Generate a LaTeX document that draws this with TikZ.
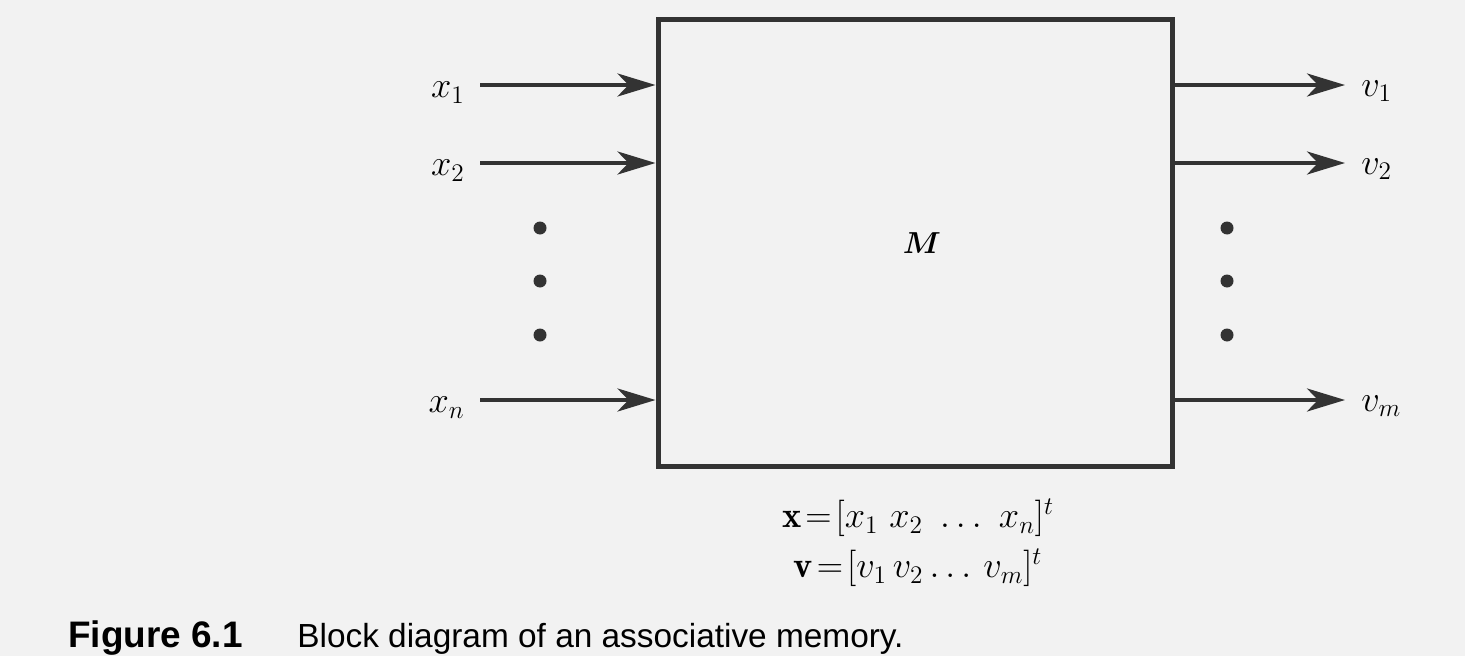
\documentclass[tikz,border=0pt]{standalone}
\usepackage{fontspec}
\usepackage{bm}
\setsansfont{Liberation Sans}
\usepackage{tikz}
\usetikzlibrary{arrows.meta,positioning,calc}
\definecolor{ink}{gray}{0.2}
\definecolor{paper}{gray}{0.95}

\begin{document}
\begin{tikzpicture}[
    x=0.2mm, y=-0.2mm,
    mem/.style={draw=ink, line width=1mm, minimum width=102.8mm, minimum height=89.2mm},
    edge/.style={-{Stealth[length=7.6mm, width=4.6mm, inset=2.2mm]}, draw=ink, line width=0.8mm},
    lbl/.style={font=\huge, inner sep=0pt},
    dot/.style={circle, fill=ink, inner sep=0pt, minimum size=2.6mm}
]
\fill[paper] (0,0) rectangle (1465,656);
\useasboundingbox (0,0) rectangle (1465,656);

\node[mem] (mem) at (915,243) {};
\node[font=\LARGE] (mlabel) at ([xshift=1.4mm]mem.center) {$\bm{M}$};

% inputs
\coordinate (in1) at (480,85);
\coordinate (in2) at (480,163);
\coordinate (inn) at (480,400);
\node[lbl, left=3mm of in1, yshift=-1.5mm] (x1) {$x_1$};
\node[lbl, left=3mm of in2, yshift=-1.5mm] (x2) {$x_2$};
\node[lbl, left=3mm of inn, yshift=-1.5mm] (xn) {$x_n$};
\draw[edge] (in1) -- (in1 -| mem.west);
\draw[edge] (in2) -- (in2 -| mem.west);
\draw[edge] (inn) -- (inn -| mem.west);

% outputs
\coordinate (out1) at (1345,85);
\coordinate (out2) at (1345,163);
\coordinate (outm) at (1345,400);
\node[lbl, right=3.2mm of out1, yshift=-1.2mm] (v1) {$v_1$};
\node[lbl, right=3.2mm of out2, yshift=-1.2mm] (v2) {$v_2$};
\node[lbl, right=3.2mm of outm, yshift=-1.2mm] (vm) {$v_m$};
\draw[edge] (out1 -| mem.east) -- (out1);
\draw[edge] (out2 -| mem.east) -- (out2);
\draw[edge] (outm -| mem.east) -- (outm);

% dots
\foreach \y [count=\i] in {228,281,335} {
  \node[dot] (ld\i) at (540,\y) {};
  \node[dot] (rd\i) at (1227,\y) {};
}

\node[lbl] (eqx) at (918,518) {$\mathbf{x}\!=\![x_1\ x_2\ \ldots\ x_n]^t$};
\node[lbl] (eqv) at (918,568) {$\mathbf{v}\!=\![v_1\, v_2 \ldots\, v_m]^t$};

\node[anchor=base west, font=\sffamily\bfseries\fontsize{21}{25}\selectfont, inner sep=0pt] (capnum) at (68,647) {Figure 6.1};
\node[anchor=base west, font=\sffamily\fontsize{19}{23}\selectfont, inner sep=0pt] (captext) at (297,647) {Block diagram of an associative memory.};
\end{tikzpicture}
\end{document}
